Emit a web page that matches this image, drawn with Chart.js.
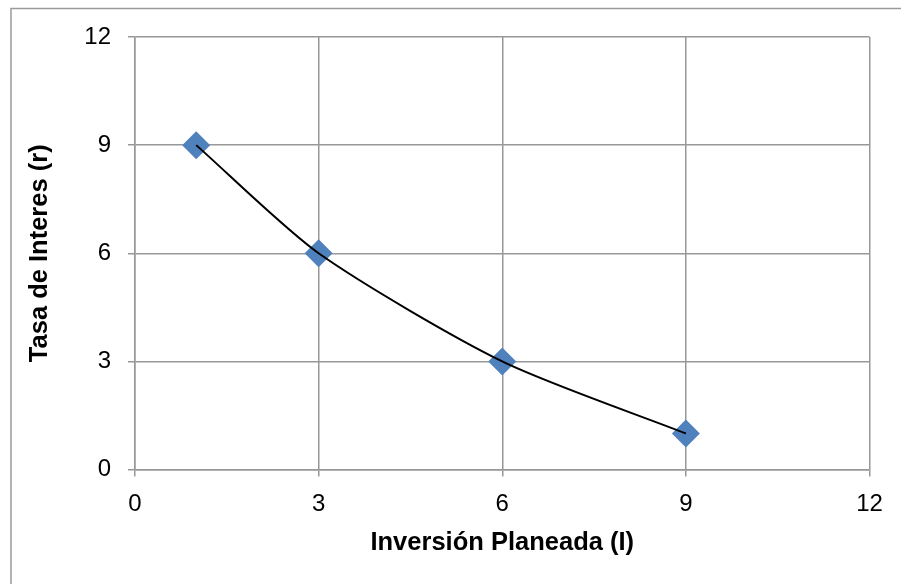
<!DOCTYPE html>
<html>
<head>
<meta charset="utf-8">
<script src="https://cdn.jsdelivr.net/npm/chart.js@4/dist/chart.umd.min.js"></script>
<style>
  html, body { margin: 0; padding: 0; background: #ffffff; }
  #wrap { width: 901px; height: 584px; position: relative; }
</style>
</head>
<body>
<div id="wrap"><canvas id="c" width="901" height="584"></canvas></div>
<script>
const inversion = [1, 3, 6, 9];
const tasa = [9, 6, 3, 1];
const xTicks = [0, 3, 6, 9, 12];
const yTicks = [0, 3, 6, 9, 12];
const xTitle = 'Inversión Planeada (I)';
const yTitle = 'Tasa de Interes (r)';

const points = inversion.map((x, i) => ({ x: x, y: tasa[i] }));

const framePlugin = {
  id: 'frame',
  beforeDraw(chart) {
    const ctx = chart.ctx;
    ctx.save();
    ctx.fillStyle = '#ffffff';
    ctx.fillRect(0, 0, chart.width, chart.height);
    ctx.strokeStyle = '#9a9a9a';
    ctx.lineWidth = 1.5;
    ctx.beginPath();
    ctx.moveTo(11, chart.height + 2);
    ctx.lineTo(11, 8.5);
    ctx.lineTo(chart.width + 2, 8.5);
    ctx.stroke();
    ctx.restore();
  }
};

const gridColor = '#989898';

new Chart(document.getElementById('c'), {
  type: 'scatter',
  data: {
    datasets: [
      {
        label: 'curve',
        data: points,
        showLine: true,
        borderColor: '#000000',
        borderWidth: 2,
        tension: 0.25,
        pointRadius: 0,
        fill: false
      },
      {
        label: 'datos',
        data: points,
        showLine: false,
        pointStyle: 'rectRot',
        pointRadius: 14,
        pointBorderWidth: 0,
        backgroundColor: '#4F81BD',
        borderColor: '#4F81BD'
      }
    ]
  },
  options: {
    responsive: false,
    animation: false,
    devicePixelRatio: 1,
    layout: { padding: { top: 37, right: 31.5, left: 0, bottom: 0 } },
    plugins: { legend: { display: false }, tooltip: { enabled: false } },
    scales: {
      x: {
        type: 'linear',
        min: 0, max: 12,
        afterBuildTicks(scale) { scale.ticks = xTicks.map(v => ({ value: v })); },
        afterFit(scale) { scale.height = 114.5; },
        grid: { color: gridColor, lineWidth: 1.5, tickLength: 7, drawTicks: true },
        border: { color: gridColor, width: 1.5 },
        ticks: {
          color: '#000000',
          padding: 13,
          maxRotation: 0,
          font: { family: 'Liberation Sans, Arial, sans-serif', size: 24 }
        },
        title: {
          display: true,
          text: xTitle,
          color: '#000000',
          padding: { top: 0, bottom: 26 },
          font: { family: 'Liberation Sans, Arial, sans-serif', size: 25.5, weight: 'bold' }
        }
      },
      y: {
        type: 'linear',
        min: 0, max: 12,
        afterBuildTicks(scale) { scale.ticks = yTicks.map(v => ({ value: v })); },
        afterFit(scale) { scale.width = 135; },
        grid: { color: gridColor, lineWidth: 1.5, tickLength: 7, drawTicks: true },
        border: { color: gridColor, width: 1.5 },
        ticks: {
          color: '#000000',
          padding: 17,
          font: { family: 'Liberation Sans, Arial, sans-serif', size: 24 }
        },
        title: {
          display: true,
          text: yTitle,
          color: '#000000',
          padding: { top: 25, bottom: 0 },
          font: { family: 'Liberation Sans, Arial, sans-serif', size: 25.5, weight: 'bold' }
        }
      }
    }
  },
  plugins: [framePlugin]
});
</script>
</body>
</html>
